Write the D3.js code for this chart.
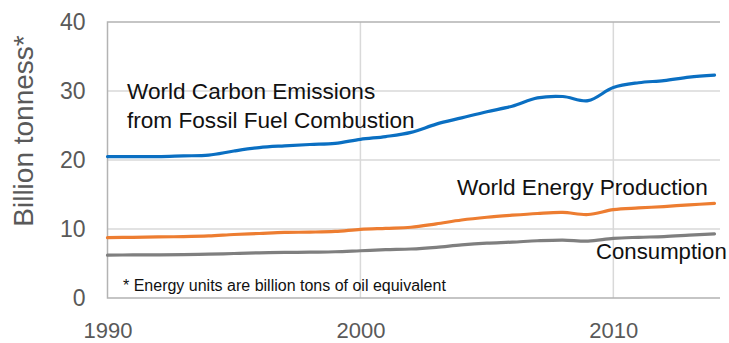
<!DOCTYPE html>
<html>
<head>
<meta charset="utf-8">
<script src="https://cdn.jsdelivr.net/npm/d3@7"></script>
<style>
  body { margin: 0; background: #fff; }
  text { font-family: "Liberation Sans", Arial, sans-serif; }
</style>
</head>
<body>
<div id="myVis"></div>
<script>
var w = 729;
var h = 343;

// data (billion tonnes per year)
var years = [1990, 1991, 1992, 1993, 1994, 1995, 1996, 1997, 1998, 1999, 2000, 2001, 2002,
             2003, 2004, 2005, 2006, 2007, 2008, 2009, 2010, 2011, 2012, 2013, 2014];
var carbon = [20.5, 20.5, 20.5, 20.6, 20.7, 21.3, 21.8, 22.05, 22.25, 22.4, 23.0, 23.4, 24.0,
              25.2, 26.1, 27.0, 27.8, 29.0, 29.2, 28.6, 30.5, 31.2, 31.5, 32.0, 32.3];
var production = [8.75, 8.8, 8.85, 8.9, 9.0, 9.2, 9.35, 9.5, 9.55, 9.65, 9.95, 10.1, 10.25,
                  10.75, 11.3, 11.7, 12.0, 12.25, 12.4, 12.1, 12.8, 13.05, 13.25, 13.5, 13.7];
var consumption = [6.2, 6.25, 6.25, 6.3, 6.35, 6.45, 6.55, 6.6, 6.65, 6.7, 6.85, 7.0, 7.1,
                   7.35, 7.7, 7.95, 8.1, 8.3, 8.4, 8.25, 8.65, 8.8, 8.9, 9.1, 9.3];
var xTicks = [1990, 2000, 2010];
var yTicks = [0, 10, 20, 30, 40];

var plotL = 107.5, plotR = 720, plotT = 22, plotB = 298;

var svg = d3.select("#myVis").append("svg")
  .attr("width", w)
  .attr("height", h);

var xScale = d3.scaleLinear()
  .domain([1990, 2014])
  .range([plotL, 714.5]);

var yScale = d3.scaleLinear()
  .domain([0, 40])
  .range([plotB, plotT]);

// horizontal grid
svg.append("g")
  .selectAll("line")
  .data(yTicks.filter(function(d) { return d > 0 && d < 40; }))
  .enter().append("line")
  .attr("x1", plotL).attr("x2", plotR)
  .attr("y1", function(d) { return yScale(d); })
  .attr("y2", function(d) { return yScale(d); })
  .attr("stroke", "#d9d9d9")
  .attr("stroke-width", 1.5);

// vertical grid
svg.append("g")
  .selectAll("line")
  .data(xTicks.slice(1))
  .enter().append("line")
  .attr("x1", function(d) { return xScale(d); })
  .attr("x2", function(d) { return xScale(d); })
  .attr("y1", plotT).attr("y2", plotB)
  .attr("stroke", "#d9d9d9")
  .attr("stroke-width", 1.5);

// frame: top, left, bottom
svg.append("path")
  .attr("d", "M" + plotR + "," + plotT + "H" + plotL + "V" + plotB + "H" + plotR)
  .attr("fill", "none")
  .attr("stroke", "#b3b3b3")
  .attr("stroke-width", 1.5);

// y axis labels
var yAxis = svg.append("g")
  .attr("transform", "translate(" + plotL + ",0)")
  .call(d3.axisLeft(yScale).tickValues(yTicks).tickSize(0).tickPadding(22));
yAxis.select(".domain").remove();
yAxis.selectAll("text")
  .attr("font-family", "Liberation Sans, Arial, sans-serif")
  .attr("font-size", 23)
  .attr("fill", "#595959");

// x axis labels
var xAxis = svg.append("g")
  .attr("transform", "translate(0," + plotB + ")")
  .call(d3.axisBottom(xScale).tickValues(xTicks).tickFormat(d3.format("d")).tickSize(0).tickPadding(24));
xAxis.select(".domain").remove();
xAxis.selectAll("text")
  .attr("font-family", "Liberation Sans, Arial, sans-serif")
  .attr("font-size", 22)
  .attr("fill", "#595959");

// y title
svg.append("text")
  .attr("transform", "translate(33,131) rotate(-90)")
  .attr("text-anchor", "middle")
  .attr("font-size", 28)
  .attr("fill", "#595959")
  .text("Billion tonness*");

// lines
var series = [
  { values: carbon, color: "#0a6fc2" },
  { values: production, color: "#ed7d31" },
  { values: consumption, color: "#7f7f7f" }
];

var line = d3.line()
  .x(function(d, i) { return xScale(years[i]); })
  .y(function(d) { return yScale(d); })
  .curve(d3.curveCatmullRom.alpha(0.5));

svg.selectAll(".series")
  .data(series)
  .enter().append("path")
  .attr("class", "series")
  .attr("d", function(d) { return line(d.values); })
  .attr("fill", "none")
  .attr("stroke", function(d) { return d.color; })
  .attr("stroke-width", 3.2)
  .attr("stroke-linecap", "round");

// annotations
var notes = [
  { text: "World Carbon Emissions", x: 127, y: 99, size: 22.6 },
  { text: "from Fossil Fuel Combustion", x: 127, y: 128, size: 22.6 },
  { text: "World Energy Production", x: 457, y: 195, size: 22.6 },
  { text: "Consumption", x: 596, y: 259, size: 22.2 },
  { text: "* Energy units are billion tons of oil equivalent", x: 123, y: 291, size: 16 }
];

svg.selectAll(".note")
  .data(notes)
  .enter().append("text")
  .attr("class", "note")
  .attr("x", function(d) { return d.x; })
  .attr("y", function(d) { return d.y; })
  .attr("font-size", function(d) { return d.size; })
  .attr("fill", "#111")
  .text(function(d) { return d.text; });
</script>
</body>
</html>
